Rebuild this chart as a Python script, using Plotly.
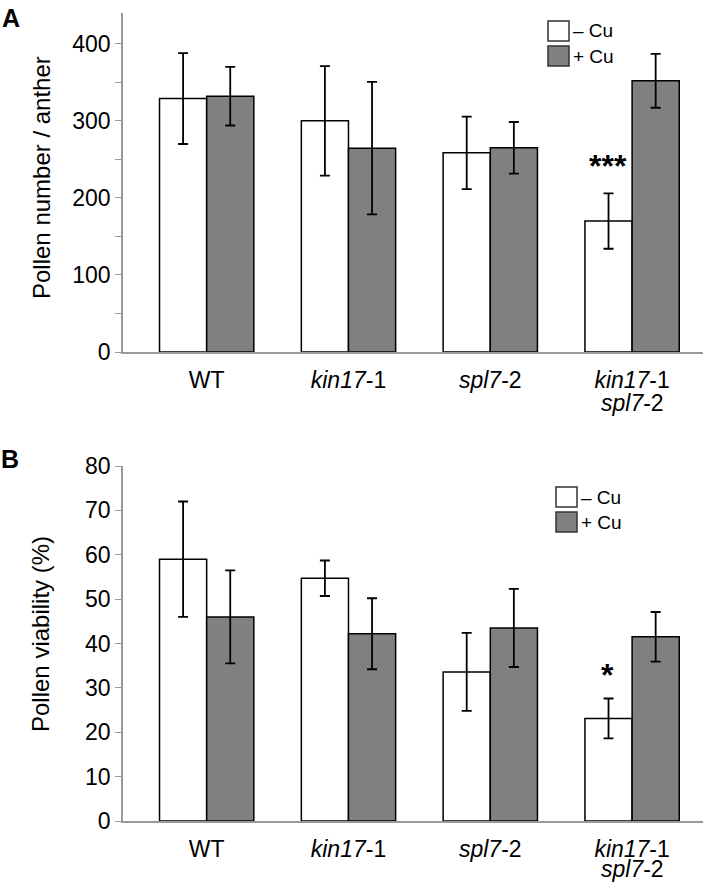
import plotly.graph_objects as go
from plotly.subplots import make_subplots

genotypes = ['WT', '<i>kin17</i>-1', '<i>spl7</i>-2', '<i>kin17</i>-1']
second_line = '<i>spl7</i>-2'
xpos = [0, 1, 2, 3]

pollen_minus = [329, 300, 258.5, 170]
pollen_minus_err = [59, 71, 47, 36]
pollen_plus = [332, 264.5, 265, 352]
pollen_plus_err = [38, 86, 33.5, 35]

viab_minus = [59, 54.7, 33.6, 23.1]
viab_minus_err = [13, 4, 8.8, 4.5]
viab_plus = [46, 42.2, 43.5, 41.5]
viab_plus_err = [10.5, 8, 8.8, 5.6]

W, H = 717, 884
FONT = 'Arial, Liberation Sans, sans-serif'
GRAY = '#808080'
AXIS = '#999999'


def px(x):
    return x / W


def py(y):
    return 1 - y / H


fig = make_subplots(rows=2, cols=1)

panels = [
    (1, pollen_minus, pollen_minus_err, pollen_plus, pollen_plus_err),
    (2, viab_minus, viab_minus_err, viab_plus, viab_plus_err),
]
for row, ym, em, yp, ep in panels:
    fig.add_bar(x=xpos, y=ym, name='– Cu', row=row, col=1, showlegend=False,
                marker=dict(color='white', line=dict(color='black', width=1.5)),
                error_y=dict(type='data', array=em, color='black', thickness=1.8, width=5))
    fig.add_bar(x=xpos, y=yp, name='+ Cu', row=row, col=1, showlegend=False,
                marker=dict(color=GRAY, line=dict(color='black', width=1.5)),
                error_y=dict(type='data', array=ep, color='black', thickness=1.8, width=5))

xdom = [px(123), px(703)]
common_x = dict(range=[-0.59, 3.5], tickvals=xpos, ticktext=genotypes, showline=True,
                linecolor=AXIS, linewidth=1.5, ticks='', showgrid=False, zeroline=False,
                tickfont=dict(size=23, color='black', family=FONT), automargin=False,
                ticklabelstandoff=7, domain=xdom)
fig.update_xaxes(**common_x, row=1, col=1)
fig.update_xaxes(**common_x, row=2, col=1)

common_y = dict(showline=True, linecolor=AXIS, linewidth=1.5, ticks='outside', ticklen=6,
                tickcolor=AXIS, showgrid=False, zeroline=False, automargin=False,
                tickfont=dict(size=23, color='black', family=FONT))
fig.update_yaxes(**common_y, range=[0, 440], tickvals=[0, 100, 200, 300, 400],
                 minor=dict(tickvals=[50, 150, 250, 350], ticks='outside', ticklen=6, tickcolor=AXIS),
                 domain=[py(352), py(13)], row=1, col=1)
fig.update_yaxes(**common_y, range=[0, 80], dtick=10,
                 domain=[py(821), py(466)], row=2, col=1)

fig.update_layout(
    width=W, height=H,
    margin=dict(l=0, r=0, t=0, b=0),
    barmode='group', bargap=0.335, bargroupgap=0,
    plot_bgcolor='white', paper_bgcolor='white',
    font=dict(family=FONT, color='black'),
)

# second line of the double-mutant label
for xr, ylab in [('x', 403), ('x2', 869)]:
    fig.add_annotation(text=second_line, x=3, xref=xr, y=py(ylab), yref='paper',
                       xanchor='center', yanchor='middle', showarrow=False,
                       font=dict(size=23))

# axis titles and panel letters
fig.add_annotation(text='Pollen number / anther', x=px(42), y=py(178), xref='paper', yref='paper',
                   xanchor='center', yanchor='middle', textangle=-90, showarrow=False,
                   font=dict(size=24))
fig.add_annotation(text='Pollen viability (%)', x=px(40), y=py(634), xref='paper', yref='paper',
                   xanchor='center', yanchor='middle', textangle=-90, showarrow=False,
                   font=dict(size=24))
fig.add_annotation(text='<b>A</b>', x=px(0), y=py(2), xref='paper', yref='paper',
                   xanchor='left', yanchor='top', showarrow=False, font=dict(size=25))
fig.add_annotation(text='<b>B</b>', x=px(-1), y=py(443), xref='paper', yref='paper',
                   xanchor='left', yanchor='top', showarrow=False, font=dict(size=25))

# significance marks
fig.add_annotation(text='<b>***</b>', x=2.83, y=242, xref='x', yref='y', showarrow=False,
                   xanchor='center', yanchor='middle', font=dict(size=32))
fig.add_annotation(text='<b>*</b>', x=2.83, y=33, xref='x2', yref='y2', showarrow=False,
                   xanchor='center', yanchor='middle', font=dict(size=32))

# custom legends
for (lx, ly) in [(548, 21), (556, 487)]:
    fig.add_shape(type='rect', x0=px(lx), x1=px(lx + 21), y0=py(ly), y1=py(ly + 20),
                  xref='paper', yref='paper', fillcolor='white', line=dict(color='#333333', width=1.5))
    fig.add_shape(type='rect', x0=px(lx), x1=px(lx + 21), y0=py(ly + 25), y1=py(ly + 45),
                  xref='paper', yref='paper', fillcolor=GRAY, line=dict(color='#333333', width=1.5))
    fig.add_annotation(text='– Cu', x=px(lx + 23), y=py(ly + 10), xref='paper', yref='paper',
                       xanchor='left', yanchor='middle', showarrow=False, font=dict(size=19))
    fig.add_annotation(text='+ Cu', x=px(lx + 23), y=py(ly + 35), xref='paper', yref='paper',
                       xanchor='left', yanchor='middle', showarrow=False, font=dict(size=19))

fig.write_html('out.html', config={'displayModeBar': False},
               post_script="document.body.style.margin='0';")
